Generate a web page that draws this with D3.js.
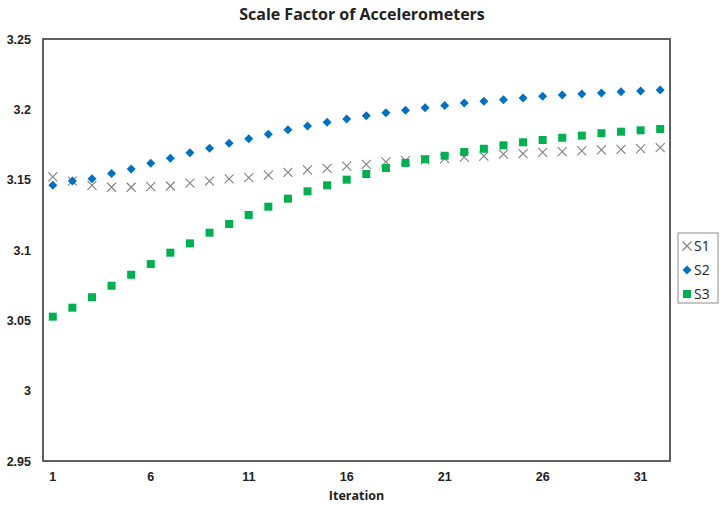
<!DOCTYPE html>
<html>
<head>
<meta charset="utf-8">
<script src="https://cdn.jsdelivr.net/npm/d3@7"></script>
<style>
  body { margin: 0; background: #fff; }
  svg { font-family: "Open Sans", "Liberation Sans", sans-serif; }
  .axis path, .axis line { display: none; }
  .axis text { font-size: 12.5px; font-weight: bold; fill: #222; }
</style>
</head>
<body>
<svg id="chart" width="723" height="505"></svg>
<script>
// iterations 1..32
const iterations = d3.range(1, 33);
const xTicks = [1, 6, 11, 16, 21, 26, 31];
const yTicks = [2.95, 3, 3.05, 3.1, 3.15, 3.2, 3.25];
const yTickLabels = ["2.95", "3", "3.05", "3.1", "3.15", "3.2", "3.25"];

const s1 = [3.152, 3.149, 3.146, 3.1446, 3.1446, 3.145, 3.1455, 3.1476,
            3.149, 3.1505, 3.1514, 3.1533, 3.1552, 3.1569, 3.1581, 3.1597,
            3.1609, 3.1626, 3.1635, 3.164, 3.1649, 3.1661, 3.1668, 3.1682,
            3.1685, 3.1694, 3.1699, 3.1704, 3.1711, 3.1716, 3.172, 3.1727];
const s2 = [3.146, 3.149, 3.1507, 3.1543, 3.1576, 3.1616, 3.1652, 3.1692,
            3.1723, 3.1758, 3.1791, 3.1822, 3.1855, 3.1882, 3.1908, 3.1931,
            3.1955, 3.1976, 3.1993, 3.2012, 3.2028, 3.2045, 3.2057, 3.2069,
            3.2081, 3.2093, 3.2102, 3.2109, 3.2116, 3.2125, 3.213, 3.2137];
const s3 = [3.0526, 3.059, 3.0664, 3.0746, 3.0824, 3.090, 3.0981, 3.1047,
            3.1123, 3.1185, 3.1249, 3.1308, 3.1365, 3.1417, 3.146, 3.150,
            3.154, 3.1583, 3.1619, 3.1645, 3.167, 3.1697, 3.172, 3.1744,
            3.1766, 3.1782, 3.1798, 3.1813, 3.183, 3.1841, 3.1851, 3.186];

const seriesNames = ["S1", "S2", "S3"];
const seriesData = [s1, s2, s3];
const colors = ["#7f7f7f", "#0070c0", "#00b050"];

const svg = d3.select("#chart");
const margin = { top: 39, left: 43, right: 53, bottom: 44 };
const W = 723, H = 505;

const x = d3.scaleBand()
    .domain(iterations)
    .range([margin.left, W - margin.right])
    .padding(0);
const cx = d => x(d) + x.bandwidth() / 2;

const y = d3.scaleLinear()
    .domain([2.95, 3.25])
    .range([H - margin.bottom, margin.top]);

// title
svg.append("text")
    .attr("x", 362).attr("y", 20)
    .attr("text-anchor", "middle")
    .style("font-size", "16px").style("font-weight", "bold").style("fill", "#222")
    .text("Scale Factor of Accelerometers");

// axes
svg.append("g").attr("class", "axis")
    .attr("transform", `translate(0,${H - margin.bottom})`)
    .call(d3.axisBottom(x).tickValues(xTicks).tickSize(0).tickPadding(11));

svg.append("g").attr("class", "axis")
    .attr("transform", `translate(${margin.left},0)`)
    .call(d3.axisLeft(y).tickValues(yTicks).tickSize(0).tickPadding(12)
        .tickFormat((d, i) => yTickLabels[i]));

svg.append("text")
    .attr("x", (margin.left + W - margin.right) / 2).attr("y", 500)
    .attr("text-anchor", "middle")
    .style("font-size", "12.5px").style("font-weight", "bold").style("fill", "#222")
    .text("Iteration");

// plot border
svg.append("rect")
    .attr("x", margin.left).attr("y", margin.top)
    .attr("width", W - margin.right - margin.left)
    .attr("height", H - margin.bottom - margin.top)
    .attr("fill", "none").attr("stroke", "#3a3a3a").attr("stroke-width", 1.6);

// marker drawers
function drawMarker(g, k) {
    if (k === 0) {
        g.append("path").attr("d", "M-4.5,-4.5L4.5,4.5M-4.5,4.5L4.5,-4.5")
            .attr("stroke", colors[0]).attr("stroke-width", 1.1).attr("fill", "none");
    } else if (k === 1) {
        g.append("path").attr("d", "M0,-4.5L4.5,0L0,4.5L-4.5,0Z").attr("fill", colors[1]);
    } else {
        g.append("rect").attr("x", -4).attr("y", -4).attr("width", 8).attr("height", 8)
            .attr("fill", colors[2]);
    }
}

seriesData.forEach((vals, k) => {
    const grp = svg.append("g").attr("class", "series-" + seriesNames[k]);
    grp.selectAll("g.pt")
        .data(vals)
        .join("g")
        .attr("class", "pt")
        .attr("transform", (d, i) => `translate(${cx(iterations[i])},${y(d)})`)
        .each(function() { drawMarker(d3.select(this), k); });
});

// legend
const lg = svg.append("g").attr("transform", "translate(678,233)");
lg.append("rect").attr("width", 40).attr("height", 70)
    .attr("fill", "#fff").attr("stroke", "#8c8c8c").attr("stroke-width", 1);
seriesNames.forEach((name, k) => {
    const row = lg.append("g").attr("transform", `translate(9,${13 + k * 24})`);
    drawMarker(row, k);
    row.append("text").attr("x", 7).attr("y", 5)
        .style("font-size", "14px").style("fill", "#222").text(name);
});
</script>
</body>
</html>
